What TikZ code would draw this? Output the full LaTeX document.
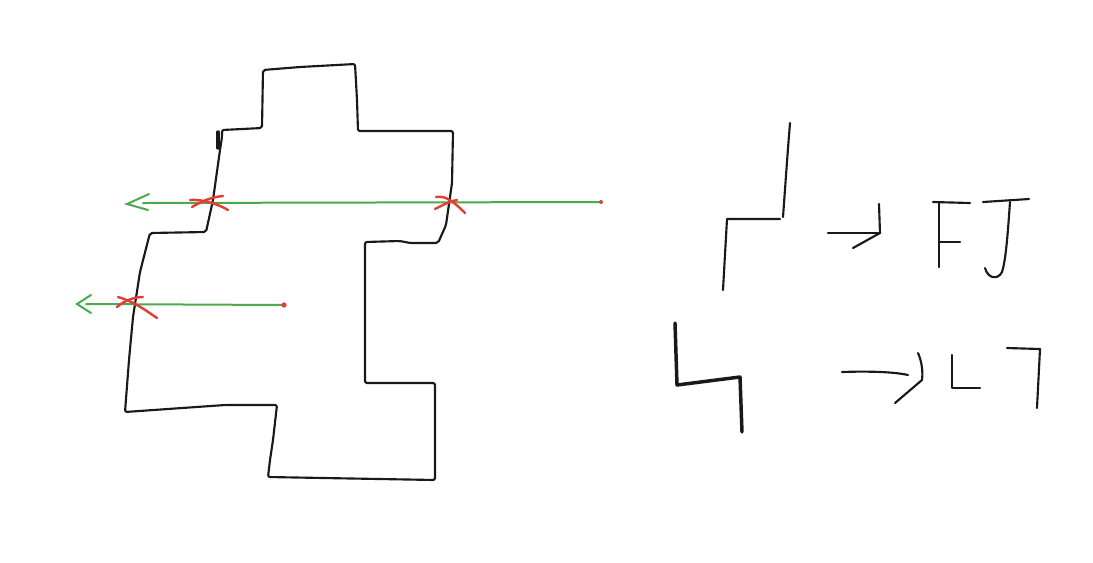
\documentclass[tikz,border=0pt]{standalone}
\begin{document}
\begin{tikzpicture}[x=0.75pt,y=-0.75pt,
  ink/.style={draw=black!90,line width=1.6pt,line cap=round,line join=round},
  thickink/.style={draw=black!90,line width=2.6pt,line cap=round,line join=round},
  ray/.style={draw=raygreen,line width=1.5pt,line cap=round},
  cross/.style={draw=xred,line width=1.8pt,line cap=round},
  dotmark/.style={fill=xred,draw=none}]
\definecolor{raygreen}{RGB}{76,170,76}
\definecolor{xred}{RGB}{226,62,52}
\useasboundingbox[fill=white] (0,0) rectangle (1093,562);

% main outline
\draw[ink,rounded corners=1.5pt] (263,70) -- (300,67) -- (355,64) -- (357,100) -- (358,131)
  -- (453,131) -- (452,183) -- (446,225) -- (438,243) -- (410,243) -- (400,241) -- (365,242)
  -- (365,383) -- (435,383) -- (435,480) -- (268,477) -- (270,460) -- (273,440) -- (277,405)
  -- (225,405) -- (125,412) -- (129,360) -- (133,317) -- (140,272) -- (150,233)
  -- (206,232) -- (213,200) -- (220,150) -- (222,137) -- (222,130) -- (262,128) -- cycle;
\draw[thickink] (218,132) -- (218,148);

% rays
\coordinate (r1s) at (601,202);
\coordinate (r1e) at (143,203);
\coordinate (r1t) at (127,204);
\coordinate (r2s) at (284,305);
\coordinate (r2e) at (86,304);
\coordinate (r2t) at (77,304);
\draw[ray] (r1s) -- (r1e);
\draw[ray] ([shift={(22,-10)}]r1t) -- (r1t) -- ([shift={(21,6)}]r1t);
\draw[ray] (r2s) -- (r2e);
\draw[ray] ([shift={(14,-9)}]r2t) -- (r2t) -- ([shift={(14,9)}]r2t);
\fill[dotmark] (r1s) circle (2);
\fill[dotmark] (r2s) circle (2.6);

% crossings
\draw[cross] (190,200) .. controls (202,199) and (218,204) .. (228,210);
\draw[cross] (192,207) .. controls (202,201) and (212,197) .. (223,196);
\draw[cross] (436,197) .. controls (446,195) and (455,203) .. (465,213);
\draw[cross] (435,209) .. controls (443,205) and (450,201) .. (457,200);
\draw[cross] (118,297) .. controls (135,302) and (145,310) .. (157,318);
\draw[cross] (117,307) .. controls (125,300) and (135,297) .. (143,297);

% right: first stair piece
\draw[ink] (790,123) .. controls (787,160) and (785,190) .. (783,217);
\draw[ink] (780,219) -- (727,219) -- (723,290);
% arrow 1
\draw[ink] (828,233) -- (880,233);
\draw[ink] (879,204) -- (880,233) -- (853,248);
% F
\draw[ink] (939,202) -- (939,267);
\draw[ink] (933,202) -- (970,203);
\draw[ink] (940,242) -- (960,242);
% J
\draw[ink] (983,202) -- (1029,199);
\draw[ink] (1010,202) .. controls (1008,230) and (1006,260) .. (1002,272) .. controls (998,280) and (988,279) .. (985,268);

% right: second stair piece
\draw[thickink] (675,323) -- (677,385) -- (740,377) -- (742,432);
% arrow 2
\draw[ink] (842,372) .. controls (870,371) and (895,372) .. (908,375);
\draw[ink] (918,353) .. controls (922,362) and (923,372) .. (922,380) -- (895,403);
% L
\draw[ink] (952,355) -- (952,388) -- (980,388);
% 7
\draw[ink] (1007,348) -- (1040,349) -- (1037,408);
\end{tikzpicture}
\end{document}
